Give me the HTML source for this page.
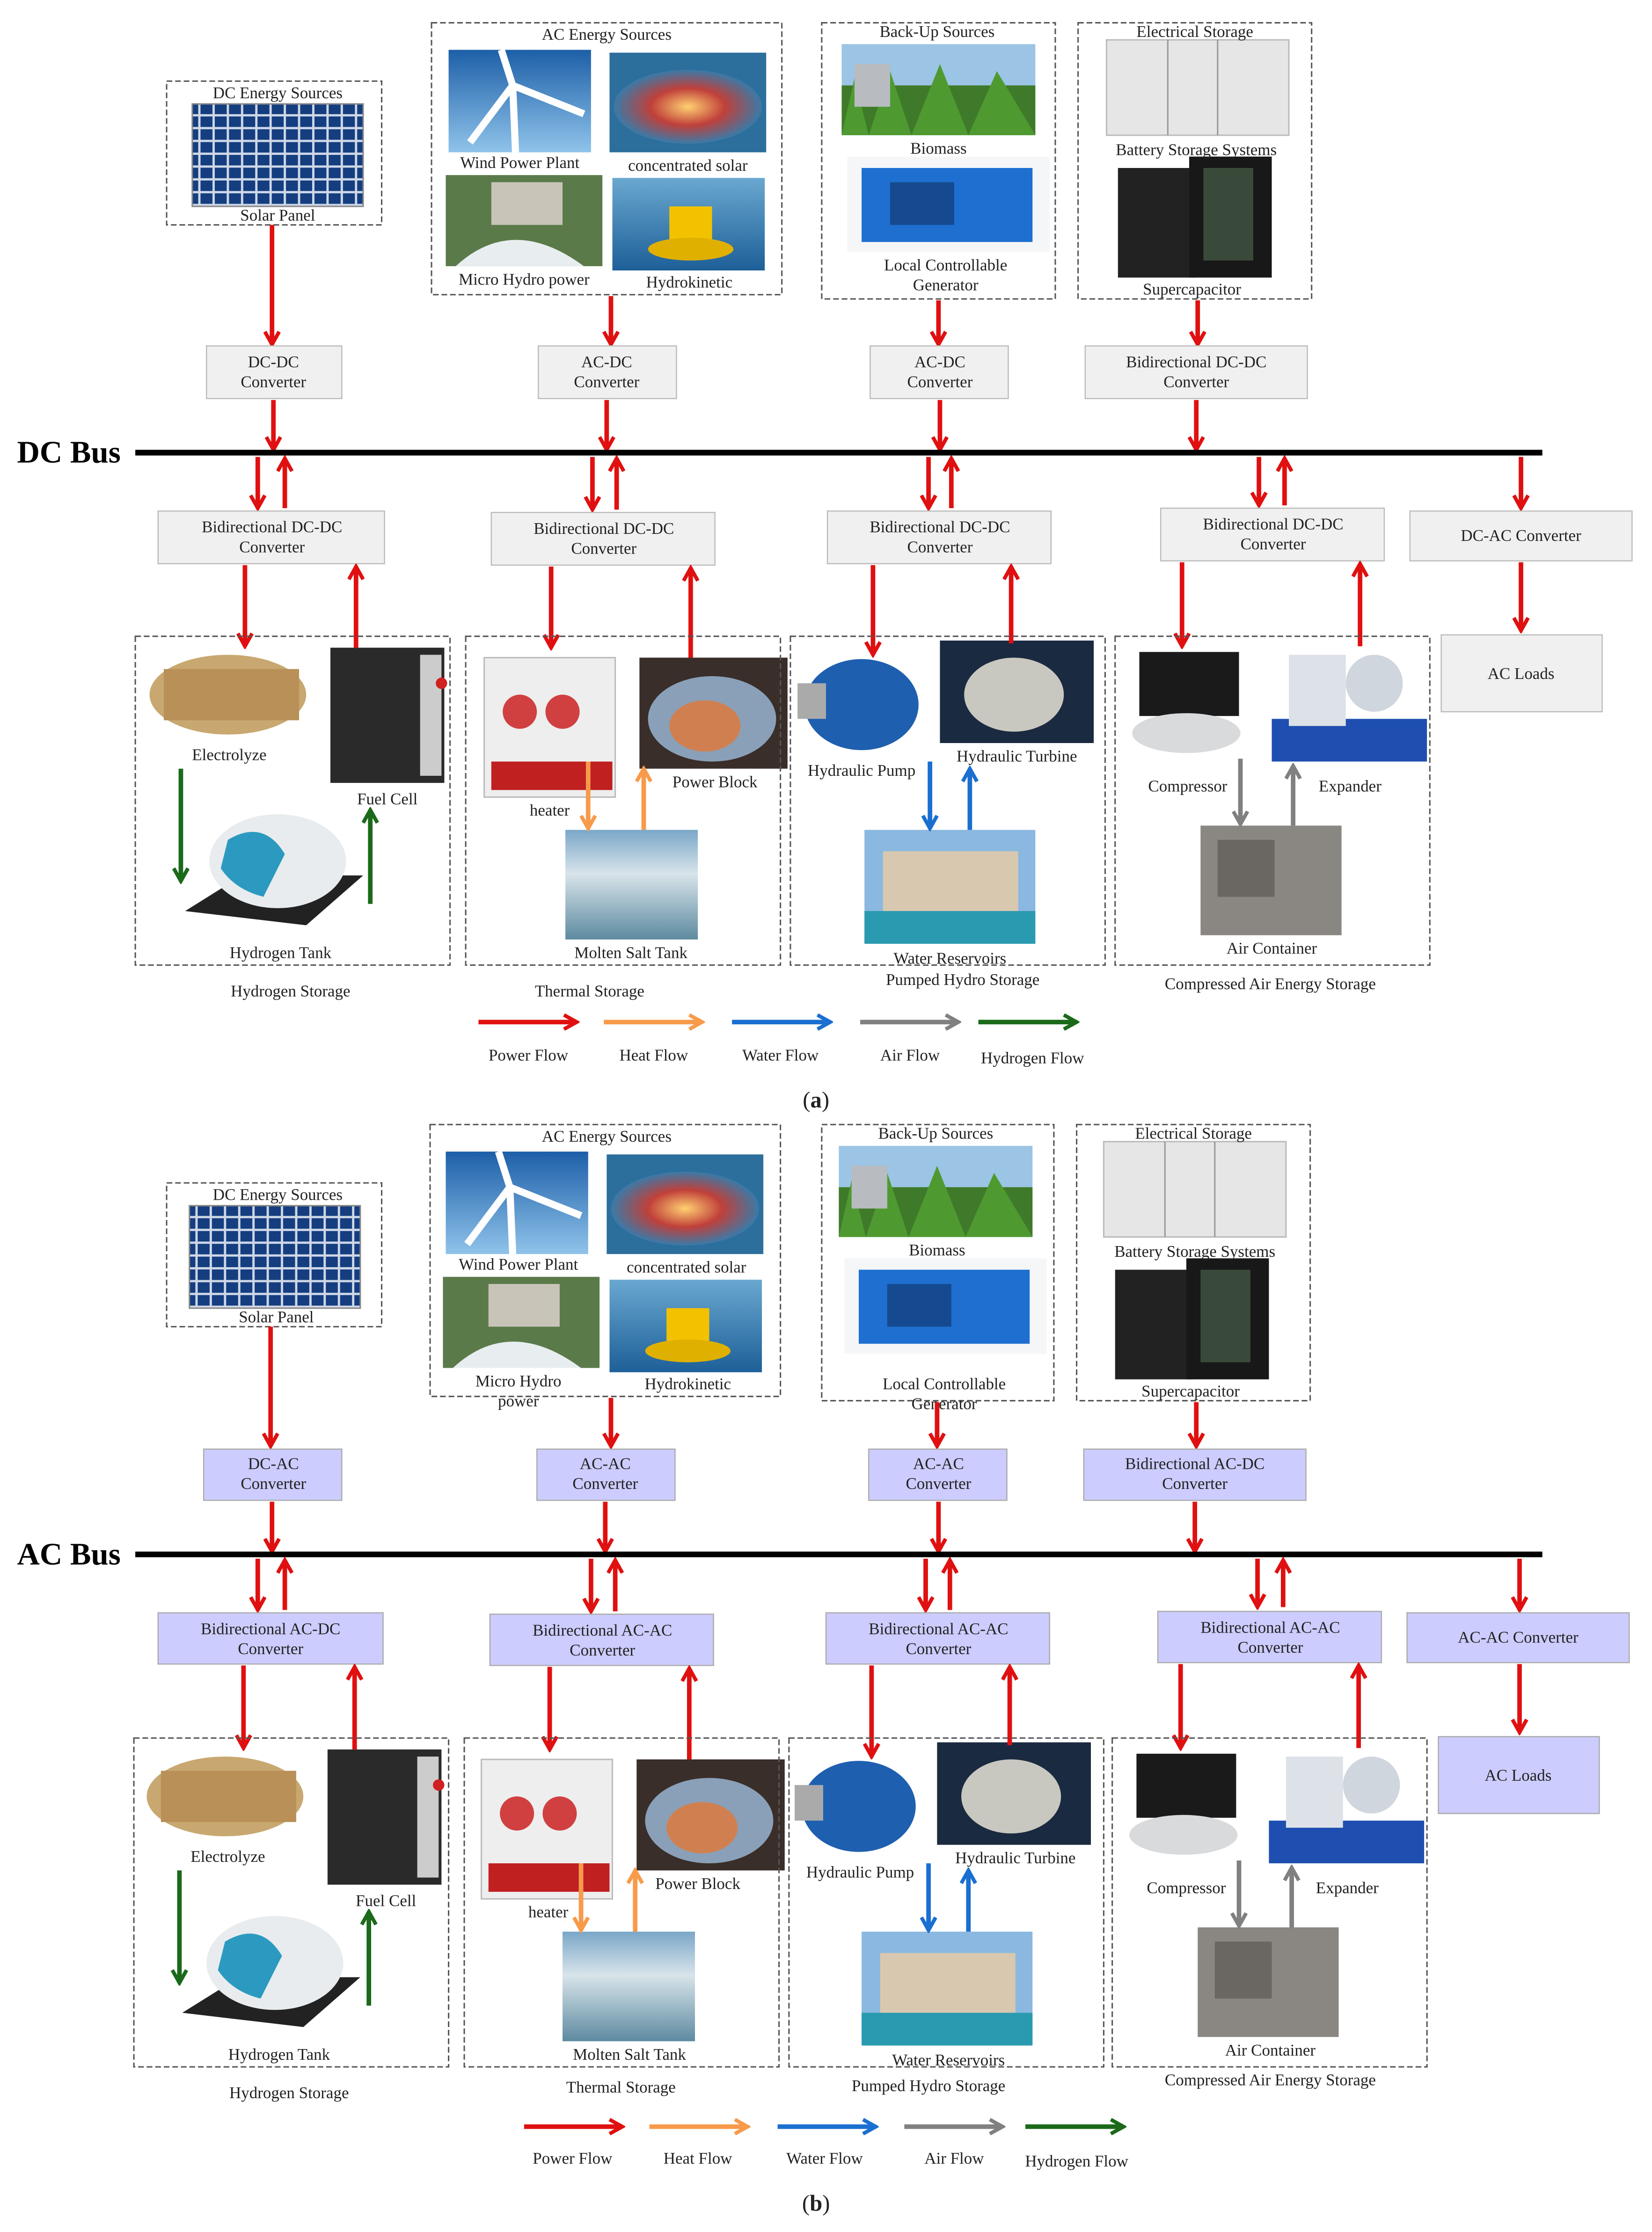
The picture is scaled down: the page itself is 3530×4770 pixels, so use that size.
<!DOCTYPE html>
<html><head><meta charset="utf-8"><style>
html,body{margin:0;padding:0;background:#fff;}
svg{display:block;}
text{font-family:"Liberation Serif",serif;font-size:11.5px;fill:#222;}
.c{text-anchor:middle;}
.bus{font-size:22px;font-weight:bold;fill:#000;}
.box{fill:none;stroke:#555;stroke-width:1;stroke-dasharray:4,2;}
.r{stroke:#e01010;stroke-width:3.2;fill:none;marker-end:url(#mr);}
.o{stroke:#f79a4a;stroke-width:3.2;fill:none;marker-end:url(#mo);}
.b{stroke:#1a6fd0;stroke-width:3.2;fill:none;marker-end:url(#mb);}
.g{stroke:#808080;stroke-width:3.2;fill:none;marker-end:url(#mg);}
.h{stroke:#1a6a1a;stroke-width:3.2;fill:none;marker-end:url(#mh);}
.cvA{fill:#f0f0f0;stroke:#bbb;stroke-width:0.8;}
.cvB{fill:#ccccff;stroke:#aaa;stroke-width:0.8;}
</style></head><body>
<svg width="3530" height="4770" viewBox="0 0 1160 1568" preserveAspectRatio="none" xmlns="http://www.w3.org/2000/svg">
<defs>
<marker id="mr" viewBox="0 0 12 12" refX="10" refY="6" markerWidth="12" markerHeight="12" markerUnits="userSpaceOnUse" orient="auto"><path d="M1,1 L10,6 L1,11" fill="none" stroke="#e01010" stroke-width="2.6"/></marker>
<marker id="mo" viewBox="0 0 12 12" refX="10" refY="6" markerWidth="12" markerHeight="12" markerUnits="userSpaceOnUse" orient="auto"><path d="M1,1 L10,6 L1,11" fill="none" stroke="#f79a4a" stroke-width="2.6"/></marker>
<marker id="mb" viewBox="0 0 12 12" refX="10" refY="6" markerWidth="12" markerHeight="12" markerUnits="userSpaceOnUse" orient="auto"><path d="M1,1 L10,6 L1,11" fill="none" stroke="#1a6fd0" stroke-width="2.6"/></marker>
<marker id="mg" viewBox="0 0 12 12" refX="10" refY="6" markerWidth="12" markerHeight="12" markerUnits="userSpaceOnUse" orient="auto"><path d="M1,1 L10,6 L1,11" fill="none" stroke="#808080" stroke-width="2.6"/></marker>
<marker id="mh" viewBox="0 0 12 12" refX="10" refY="6" markerWidth="12" markerHeight="12" markerUnits="userSpaceOnUse" orient="auto"><path d="M1,1 L10,6 L1,11" fill="none" stroke="#1a6a1a" stroke-width="2.6"/></marker>
<linearGradient id="sky" x1="0" y1="0" x2="0" y2="1"><stop offset="0" stop-color="#1d5fa8"/><stop offset="1" stop-color="#8fc3ea"/></linearGradient>
<radialGradient id="csol"><stop offset="0" stop-color="#ffd070"/><stop offset="0.5" stop-color="#c0403a"/><stop offset="1" stop-color="#3a7aa8"/></radialGradient>
<linearGradient id="sea" x1="0" y1="0" x2="0" y2="1"><stop offset="0" stop-color="#6aa8d0"/><stop offset="1" stop-color="#1d5f98"/></linearGradient>
<linearGradient id="tank" x1="0" y1="0" x2="0" y2="1"><stop offset="0" stop-color="#7aa7c8"/><stop offset="0.4" stop-color="#d8e4ea"/><stop offset="1" stop-color="#5d8aa0"/></linearGradient>
<pattern id="grid" width="10" height="9" patternUnits="userSpaceOnUse"><rect width="10" height="9" fill="#cfd8e8"/><rect x="0.8" y="0.8" width="8.4" height="7.4" fill="#153e80"/></pattern>
<g id="imgs">
 <!-- solar panel -->
 <rect x="135" y="73" width="120" height="72" fill="url(#grid)" stroke="#888"/>
 <!-- wind -->
 <rect x="315" y="35" width="100" height="72" fill="url(#sky)"/>
 <path d="M360,60 L352,35 M360,60 L410,80 M360,60 L330,100 M360,60 L362,107" stroke="#fff" stroke-width="5"/>
 <!-- concentrated solar -->
 <rect x="428" y="37" width="110" height="70" fill="#2c6e9c"/>
 <ellipse cx="483" cy="75" rx="52" ry="26" fill="url(#csol)"/>
 <!-- micro hydro -->
 <rect x="313" y="123" width="110" height="64" fill="#5b7a4a"/>
 <rect x="345" y="128" width="50" height="30" fill="#c8c4b8"/>
 <path d="M320,187 Q360,150 410,187Z" fill="#e8eef0"/>
 <!-- hydrokinetic -->
 <rect x="430" y="125" width="107" height="65" fill="url(#sea)"/>
 <rect x="470" y="145" width="30" height="30" fill="#f2c200"/>
 <ellipse cx="485" cy="175" rx="30" ry="8" fill="#e0b000"/>
 <!-- biomass -->
 <rect x="591" y="31" width="136" height="64" fill="#9cc4e4"/>
 <rect x="591" y="60" width="136" height="35" fill="#3f7a2a"/>
 <path d="M591,95 L600,55 L610,95 L625,50 L640,95 L660,45 L680,95 L700,50 L727,95Z" fill="#4e9a30"/>
 <rect x="600" y="45" width="25" height="30" fill="#b8bcc0"/>
 <!-- generator -->
 <rect x="595" y="110" width="142" height="67" fill="#f4f6f8"/>
 <rect x="605" y="118" width="120" height="52" fill="#1e6fd0"/>
 <rect x="625" y="128" width="45" height="30" fill="#154a90"/>
 <!-- battery -->
 <rect x="777" y="28" width="128" height="67" fill="#e6e6e6" stroke="#bbb"/>
 <line x1="820" y1="28" x2="820" y2="95" stroke="#999"/><line x1="855" y1="28" x2="855" y2="95" stroke="#999"/>
 <!-- supercap -->
 <rect x="785" y="118" width="55" height="77" fill="#222"/>
 <rect x="835" y="110" width="58" height="85" fill="#181818"/>
 <rect x="845" y="118" width="35" height="65" fill="#3a4a3a"/>
 <!-- electrolyze -->
 <ellipse cx="160" cy="488" rx="55" ry="28" fill="#c8a870"/>
 <rect x="115" y="470" width="95" height="36" fill="#b89058"/>
 <!-- fuel cell -->
 <rect x="232" y="455" width="80" height="95" fill="#2a2a2a"/>
 <rect x="295" y="460" width="15" height="85" fill="#ccc"/>
 <circle cx="310" cy="480" r="4" fill="#d02020"/>
 <!-- H2 tank -->
 <path d="M130,640 L170,615 L255,615 L215,650Z" fill="#222"/>
 <ellipse cx="195" cy="605" rx="48" ry="33" fill="#e8ecee"/>
 <path d="M160,590 Q185,575 200,600 L185,630 Q165,625 155,610Z" fill="#2c9ac0"/>
 <!-- heater -->
 <rect x="340" y="462" width="92" height="98" fill="#eeeeee" stroke="#bbb"/>
 <circle cx="365" cy="500" r="12" fill="#d04040"/><circle cx="395" cy="500" r="12" fill="#d04040"/>
 <rect x="345" y="535" width="85" height="20" fill="#c02020"/>
 <!-- power block -->
 <rect x="449" y="462" width="104" height="78" fill="#3a2e2a"/>
 <ellipse cx="500" cy="505" rx="45" ry="30" fill="#8aa0b8"/>
 <ellipse cx="495" cy="510" rx="25" ry="18" fill="#d08050"/>
 <!-- molten salt tank -->
 <rect x="397" y="583" width="93" height="77" fill="url(#tank)"/>
 <!-- hydraulic pump -->
 <ellipse cx="605" cy="495" rx="40" ry="32" fill="#1e5fb0"/>
 <rect x="560" y="480" width="20" height="25" fill="#aaa"/>
 <!-- hydraulic turbine -->
 <rect x="660" y="450" width="108" height="72" fill="#1a2a40"/>
 <ellipse cx="712" cy="488" rx="35" ry="26" fill="#c8c8c0"/>
 <!-- water reservoir -->
 <rect x="607" y="583" width="120" height="80" fill="#8ab8e0"/>
 <rect x="620" y="598" width="95" height="45" fill="#d8c8b0"/>
 <rect x="607" y="640" width="120" height="23" fill="#2a9ab0"/>
 <!-- compressor -->
 <rect x="800" y="458" width="70" height="45" fill="#1a1a1a"/>
 <ellipse cx="833" cy="515" rx="38" ry="14" fill="#d8dadc"/>
 <!-- expander -->
 <rect x="893" y="505" width="109" height="30" fill="#1e4fb0"/>
 <rect x="905" y="460" width="40" height="50" fill="#dde2e8"/>
 <circle cx="965" cy="480" r="20" fill="#cfd6de"/>
 <!-- air container -->
 <rect x="843" y="580" width="99" height="77" fill="#8a8682"/>
 <rect x="855" y="590" width="40" height="40" fill="#6a6662"/>
</g>
</defs>
<rect width="1160" height="1568" fill="#fff"/>

<!-- ================= (a) ================= -->
<g>
<use href="#imgs"/>
<rect class="box" x="117" y="57" width="151" height="101"/>
<text class="c" x="195" y="69">DC Energy Sources</text>
<text class="c" x="195" y="155">Solar Panel</text>
<rect class="box" x="303" y="16" width="246" height="191"/>
<text class="c" x="426" y="28">AC Energy Sources</text>
<text class="c" x="365" y="118">Wind Power Plant</text>
<text class="c" x="483" y="120">concentrated solar</text>
<text class="c" x="368" y="200">Micro Hydro power</text>
<text class="c" x="484" y="202">Hydrokinetic</text>
<rect class="box" x="577" y="16" width="164" height="194"/>
<text class="c" x="658" y="26">Back-Up Sources</text>
<text class="c" x="659" y="108">Biomass</text>
<text class="c" x="664" y="190">Local Controllable</text>
<text class="c" x="664" y="204">Generator</text>
<rect class="box" x="757" y="16" width="164" height="194"/>
<text class="c" x="839" y="26">Electrical Storage</text>
<text class="c" x="840" y="109">Battery Storage Systems</text>
<text class="c" x="837" y="207">Supercapacitor</text>

<line class="r" x1="191" y1="158" x2="191" y2="242"/>
<line class="r" x1="429" y1="208" x2="429" y2="242"/>
<line class="r" x1="659" y1="211" x2="659" y2="242"/>
<line class="r" x1="841" y1="211" x2="841" y2="242"/>

<rect class="cvA" x="145" y="243" width="95" height="37"/><text class="c" x="192" y="258">DC-DC</text><text class="c" x="192" y="272">Converter</text>
<rect class="cvA" x="378" y="243" width="97" height="37"/><text class="c" x="426" y="258">AC-DC</text><text class="c" x="426" y="272">Converter</text>
<rect class="cvA" x="611" y="243" width="97" height="37"/><text class="c" x="660" y="258">AC-DC</text><text class="c" x="660" y="272">Converter</text>
<rect class="cvA" x="762" y="243" width="156" height="37"/><text class="c" x="840" y="258">Bidirectional DC-DC</text><text class="c" x="840" y="272">Converter</text>

<line class="r" x1="192" y1="281" x2="192" y2="316"/>
<line class="r" x1="426" y1="281" x2="426" y2="316"/>
<line class="r" x1="660" y1="281" x2="660" y2="316"/>
<line class="r" x1="840" y1="281" x2="840" y2="316"/>

<line x1="95" y1="318" x2="1083" y2="318" stroke="#000" stroke-width="4"/>
<text class="bus" x="12" y="325">DC Bus</text>

<line class="r" x1="181" y1="321" x2="181" y2="357"/><line class="r" x1="200" y1="357" x2="200" y2="322"/>
<line class="r" x1="416" y1="321" x2="416" y2="358"/><line class="r" x1="433" y1="358" x2="433" y2="322"/>
<line class="r" x1="652" y1="321" x2="652" y2="357"/><line class="r" x1="668" y1="357" x2="668" y2="322"/>
<line class="r" x1="884" y1="321" x2="884" y2="355"/><line class="r" x1="902" y1="355" x2="902" y2="322"/>
<line class="r" x1="1068" y1="321" x2="1068" y2="357"/>

<rect class="cvA" x="111" y="359" width="159" height="37"/><text class="c" x="191" y="374">Bidirectional DC-DC</text><text class="c" x="191" y="388">Converter</text>
<rect class="cvA" x="345" y="360" width="157" height="37"/><text class="c" x="424" y="375">Bidirectional DC-DC</text><text class="c" x="424" y="389">Converter</text>
<rect class="cvA" x="581" y="359" width="157" height="37"/><text class="c" x="660" y="374">Bidirectional DC-DC</text><text class="c" x="660" y="388">Converter</text>
<rect class="cvA" x="815" y="357" width="157" height="37"/><text class="c" x="894" y="372">Bidirectional DC-DC</text><text class="c" x="894" y="386">Converter</text>
<rect class="cvA" x="990" y="359" width="156" height="35"/><text class="c" x="1068" y="380">DC-AC Converter</text>

<line class="r" x1="172" y1="397" x2="172" y2="454"/><line class="r" x1="250" y1="455" x2="250" y2="398"/>
<line class="r" x1="387" y1="398" x2="387" y2="455"/><line class="r" x1="485" y1="462" x2="485" y2="399"/>
<line class="r" x1="613" y1="397" x2="613" y2="460"/><line class="r" x1="710" y1="452" x2="710" y2="398"/>
<line class="r" x1="830" y1="395" x2="830" y2="454"/><line class="r" x1="955" y1="454" x2="955" y2="396"/>
<line class="r" x1="1068" y1="395" x2="1068" y2="443"/>

<rect class="cvA" x="1012" y="446" width="113" height="54"/><text class="c" x="1068" y="477">AC Loads</text>

<rect class="box" x="95" y="447" width="221" height="231"/>
<rect class="box" x="327" y="447" width="221" height="231"/>
<rect class="box" x="555" y="447" width="221" height="231"/>
<rect class="box" x="783" y="447" width="221" height="231"/>

<text class="c" x="161" y="534">Electrolyze</text>
<text class="c" x="272" y="565">Fuel Cell</text>
<text class="c" x="197" y="673">Hydrogen Tank</text>
<line class="h" x1="127" y1="540" x2="127" y2="619"/><line class="h" x1="260" y1="635" x2="260" y2="569"/>
<text class="c" x="386" y="573">heater</text>
<text class="c" x="502" y="553">Power Block</text>
<text class="c" x="443" y="673">Molten Salt Tank</text>
<line class="o" x1="413" y1="535" x2="413" y2="582"/><line class="o" x1="452" y1="583" x2="452" y2="540"/>
<text class="c" x="605" y="545">Hydraulic Pump</text>
<text class="c" x="714" y="535">Hydraulic Turbine</text>
<text class="c" x="667" y="677">Water Reservoirs</text>
<line class="b" x1="653" y1="535" x2="653" y2="582"/><line class="b" x1="681" y1="583" x2="681" y2="540"/>
<text class="c" x="834" y="556">Compressor</text>
<text class="c" x="948" y="556">Expander</text>
<text class="c" x="893" y="670">Air Container</text>
<line class="g" x1="871" y1="533" x2="871" y2="579"/><line class="g" x1="908" y1="580" x2="908" y2="538"/>

<text class="c" x="204" y="700">Hydrogen Storage</text>
<text class="c" x="414" y="700">Thermal Storage</text>
<text class="c" x="676" y="692">Pumped Hydro Storage</text>
<text class="c" x="892" y="695">Compressed Air Energy Storage</text>

<line class="r" x1="336" y1="718" x2="405" y2="718"/><text class="c" x="371" y="745">Power Flow</text>
<line class="o" x1="424" y1="718" x2="493" y2="718"/><text class="c" x="459" y="745">Heat Flow</text>
<line class="b" x1="514" y1="718" x2="583" y2="718"/><text class="c" x="548" y="745">Water Flow</text>
<line class="g" x1="604" y1="718" x2="673" y2="718"/><text class="c" x="639" y="745">Air Flow</text>
<line class="h" x1="687" y1="718" x2="756" y2="718"/><text class="c" x="725" y="747">Hydrogen Flow</text>

<text class="c" x="573" y="778" style="font-size:16px">(<tspan font-weight="bold">a</tspan>)</text>
</g>

<!-- ================= (b) ================= -->
<g transform="translate(0,774)">
<use href="#imgs" transform="translate(-2,0)"/>
<rect class="box" x="117" y="57" width="151" height="101"/>
<text class="c" x="195" y="69">DC Energy Sources</text>
<text class="c" x="194" y="155">Solar Panel</text>
<rect class="box" x="302" y="16" width="246" height="191"/>
<text class="c" x="426" y="28">AC Energy Sources</text>
<text class="c" x="364" y="118">Wind Power Plant</text>
<text class="c" x="482" y="120">concentrated solar</text>
<text class="c" x="364" y="200">Micro Hydro</text>
<text class="c" x="364" y="214">power</text>
<text class="c" x="483" y="202">Hydrokinetic</text>
<rect class="box" x="577" y="16" width="163" height="194"/>
<text class="c" x="657" y="26">Back-Up Sources</text>
<text class="c" x="658" y="108">Biomass</text>
<text class="c" x="663" y="202">Local Controllable</text>
<text class="c" x="663" y="216">Generator</text>
<rect class="box" x="756" y="16" width="164" height="194"/>
<text class="c" x="838" y="26">Electrical Storage</text>
<text class="c" x="839" y="109">Battery Storage Systems</text>
<text class="c" x="836" y="207">Supercapacitor</text>

<line class="r" x1="190" y1="158" x2="190" y2="242"/>
<line class="r" x1="429" y1="208" x2="429" y2="242"/>
<line class="r" x1="658" y1="211" x2="658" y2="242"/>
<line class="r" x1="840" y1="211" x2="840" y2="242"/>

<rect class="cvB" x="143" y="244" width="97" height="36"/><text class="c" x="192" y="258">DC-AC</text><text class="c" x="192" y="272">Converter</text>
<rect class="cvB" x="377" y="244" width="97" height="36"/><text class="c" x="425" y="258">AC-AC</text><text class="c" x="425" y="272">Converter</text>
<rect class="cvB" x="610" y="244" width="97" height="36"/><text class="c" x="659" y="258">AC-AC</text><text class="c" x="659" y="272">Converter</text>
<rect class="cvB" x="761" y="244" width="156" height="36"/><text class="c" x="839" y="258">Bidirectional AC-DC</text><text class="c" x="839" y="272">Converter</text>

<line class="r" x1="191" y1="281" x2="191" y2="316"/>
<line class="r" x1="425" y1="281" x2="425" y2="316"/>
<line class="r" x1="659" y1="281" x2="659" y2="316"/>
<line class="r" x1="839" y1="281" x2="839" y2="316"/>

<line x1="95" y1="318" x2="1083" y2="318" stroke="#000" stroke-width="4"/>
<text class="bus" x="12" y="325">AC Bus</text>

<line class="r" x1="181" y1="321" x2="181" y2="357"/><line class="r" x1="200" y1="357" x2="200" y2="322"/>
<line class="r" x1="415" y1="321" x2="415" y2="358"/><line class="r" x1="432" y1="358" x2="432" y2="322"/>
<line class="r" x1="650" y1="321" x2="650" y2="357"/><line class="r" x1="667" y1="357" x2="667" y2="322"/>
<line class="r" x1="883" y1="321" x2="883" y2="355"/><line class="r" x1="901" y1="355" x2="901" y2="322"/>
<line class="r" x1="1067" y1="321" x2="1067" y2="357"/>

<rect class="cvB" x="111" y="359" width="158" height="36"/><text class="c" x="190" y="374">Bidirectional AC-DC</text><text class="c" x="190" y="388">Converter</text>
<rect class="cvB" x="344" y="360" width="157" height="36"/><text class="c" x="423" y="375">Bidirectional AC-AC</text><text class="c" x="423" y="389">Converter</text>
<rect class="cvB" x="580" y="359" width="157" height="36"/><text class="c" x="659" y="374">Bidirectional AC-AC</text><text class="c" x="659" y="388">Converter</text>
<rect class="cvB" x="813" y="358" width="157" height="36"/><text class="c" x="892" y="373">Bidirectional AC-AC</text><text class="c" x="892" y="387">Converter</text>
<rect class="cvB" x="988" y="359" width="156" height="35"/><text class="c" x="1066" y="380">AC-AC Converter</text>

<line class="r" x1="171" y1="396" x2="171" y2="454"/><line class="r" x1="249" y1="455" x2="249" y2="397"/>
<line class="r" x1="386" y1="397" x2="386" y2="455"/><line class="r" x1="484" y1="462" x2="484" y2="398"/>
<line class="r" x1="612" y1="396" x2="612" y2="460"/><line class="r" x1="709" y1="452" x2="709" y2="397"/>
<line class="r" x1="829" y1="395" x2="829" y2="454"/><line class="r" x1="954" y1="454" x2="954" y2="396"/>
<line class="r" x1="1067" y1="395" x2="1067" y2="443"/>

<rect class="cvB" x="1010" y="446" width="113" height="54"/><text class="c" x="1066" y="477">AC Loads</text>

<rect class="box" x="94" y="447" width="221" height="231"/>
<rect class="box" x="326" y="447" width="221" height="231"/>
<rect class="box" x="554" y="447" width="221" height="231"/>
<rect class="box" x="781" y="447" width="221" height="231"/>

<text class="c" x="160" y="534">Electrolyze</text>
<text class="c" x="271" y="565">Fuel Cell</text>
<text class="c" x="196" y="673">Hydrogen Tank</text>
<line class="h" x1="126" y1="540" x2="126" y2="619"/><line class="h" x1="259" y1="635" x2="259" y2="569"/>
<text class="c" x="385" y="573">heater</text>
<text class="c" x="490" y="553">Power Block</text>
<text class="c" x="442" y="673">Molten Salt Tank</text>
<line class="o" x1="408" y1="535" x2="408" y2="582"/><line class="o" x1="446" y1="583" x2="446" y2="540"/>
<text class="c" x="604" y="545">Hydraulic Pump</text>
<text class="c" x="713" y="535">Hydraulic Turbine</text>
<text class="c" x="666" y="677">Water Reservoirs</text>
<line class="b" x1="652" y1="535" x2="652" y2="582"/><line class="b" x1="680" y1="583" x2="680" y2="540"/>
<text class="c" x="833" y="556">Compressor</text>
<text class="c" x="946" y="556">Expander</text>
<text class="c" x="892" y="670">Air Container</text>
<line class="g" x1="870" y1="533" x2="870" y2="579"/><line class="g" x1="907" y1="580" x2="907" y2="538"/>

<text class="c" x="203" y="700">Hydrogen Storage</text>
<text class="c" x="436" y="696">Thermal Storage</text>
<text class="c" x="652" y="695">Pumped Hydro Storage</text>
<text class="c" x="892" y="691">Compressed Air Energy Storage</text>

<line class="r" x1="368" y1="720" x2="437" y2="720"/><text class="c" x="402" y="746">Power Flow</text>
<line class="o" x1="456" y1="720" x2="525" y2="720"/><text class="c" x="490" y="746">Heat Flow</text>
<line class="b" x1="546" y1="720" x2="615" y2="720"/><text class="c" x="579" y="746">Water Flow</text>
<line class="g" x1="635" y1="720" x2="704" y2="720"/><text class="c" x="670" y="746">Air Flow</text>
<line class="h" x1="720" y1="720" x2="789" y2="720"/><text class="c" x="756" y="748">Hydrogen Flow</text>

<text class="c" x="573" y="779" style="font-size:16px">(<tspan font-weight="bold">b</tspan>)</text>
</g>
</svg>
</body></html>
